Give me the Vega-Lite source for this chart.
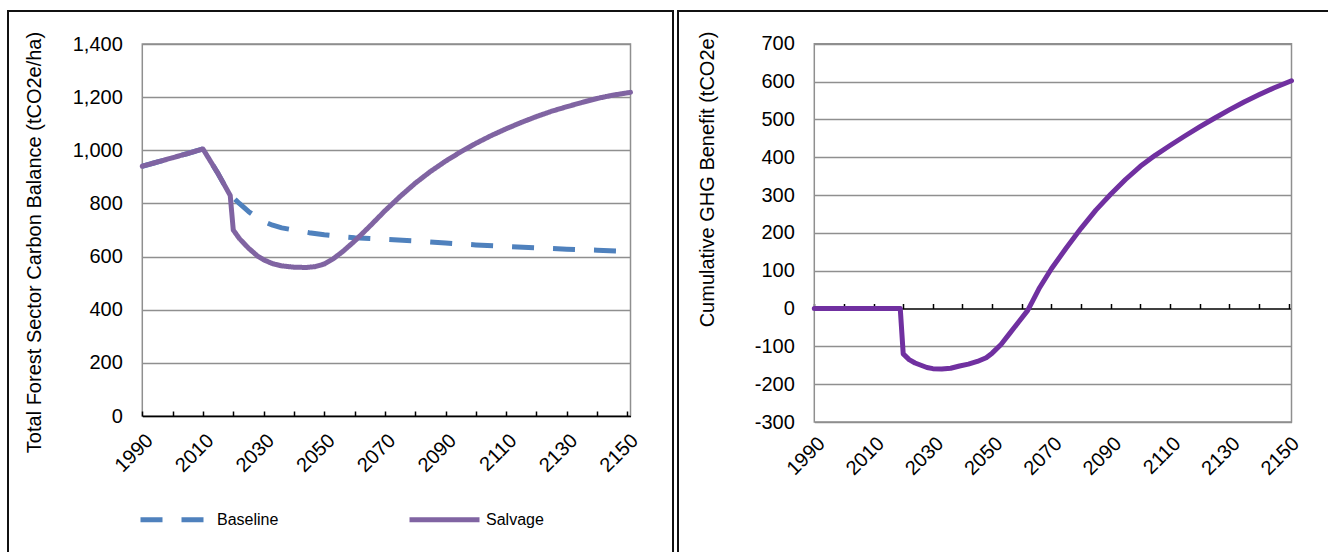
{
  "$schema": "https://vega.github.io/schema/vega-lite/v6.json",
  "background": "white",
  "padding": {"left": 7, "top": 10, "right": 0, "bottom": 0},
  "bounds": "flush",
  "spacing": 5,
  "config": {
    "view": {"stroke": "#111111", "strokeWidth": 2},
    "font": "Liberation Sans",
    "axis": {
      "labelFont": "Liberation Sans",
      "labelFontSize": 20,
      "labelColor": "#000000",
      "titleFont": "Liberation Sans",
      "titleFontSize": 20,
      "titleFontWeight": "normal",
      "titleColor": "#000000",
      "gridColor": "#8f8f8f",
      "gridWidth": 1.5
    }
  },
  "datasets": {
    "forest": [
      {"year": 1990, "series": "Baseline", "value": 940},
      {"year": 1995, "series": "Baseline", "value": 956},
      {"year": 2000, "series": "Baseline", "value": 972},
      {"year": 2005, "series": "Baseline", "value": 988},
      {"year": 2010, "series": "Baseline", "value": 1005},
      {"year": 2015, "series": "Baseline", "value": 912},
      {"year": 2019, "series": "Baseline", "value": 830},
      {"year": 2020, "series": "Baseline", "value": 822},
      {"year": 2022, "series": "Baseline", "value": 800},
      {"year": 2025, "series": "Baseline", "value": 770},
      {"year": 2028, "series": "Baseline", "value": 745},
      {"year": 2030, "series": "Baseline", "value": 732},
      {"year": 2033, "series": "Baseline", "value": 718},
      {"year": 2036, "series": "Baseline", "value": 708},
      {"year": 2040, "series": "Baseline", "value": 700},
      {"year": 2045, "series": "Baseline", "value": 690},
      {"year": 2050, "series": "Baseline", "value": 682},
      {"year": 2055, "series": "Baseline", "value": 676},
      {"year": 2060, "series": "Baseline", "value": 671},
      {"year": 2065, "series": "Baseline", "value": 668},
      {"year": 2070, "series": "Baseline", "value": 665},
      {"year": 2080, "series": "Baseline", "value": 659},
      {"year": 2090, "series": "Baseline", "value": 651},
      {"year": 2100, "series": "Baseline", "value": 644},
      {"year": 2110, "series": "Baseline", "value": 638},
      {"year": 2120, "series": "Baseline", "value": 633},
      {"year": 2130, "series": "Baseline", "value": 628},
      {"year": 2140, "series": "Baseline", "value": 624},
      {"year": 2151, "series": "Baseline", "value": 619},
      {"year": 1990, "series": "Salvage", "value": 940},
      {"year": 1995, "series": "Salvage", "value": 956},
      {"year": 2000, "series": "Salvage", "value": 972},
      {"year": 2005, "series": "Salvage", "value": 988},
      {"year": 2010, "series": "Salvage", "value": 1005},
      {"year": 2015, "series": "Salvage", "value": 912},
      {"year": 2019, "series": "Salvage", "value": 830},
      {"year": 2020, "series": "Salvage", "value": 700},
      {"year": 2022, "series": "Salvage", "value": 668},
      {"year": 2025, "series": "Salvage", "value": 632},
      {"year": 2028, "series": "Salvage", "value": 602},
      {"year": 2030, "series": "Salvage", "value": 588},
      {"year": 2033, "series": "Salvage", "value": 573},
      {"year": 2036, "series": "Salvage", "value": 565},
      {"year": 2040, "series": "Salvage", "value": 560},
      {"year": 2044, "series": "Salvage", "value": 559},
      {"year": 2047, "series": "Salvage", "value": 562},
      {"year": 2050, "series": "Salvage", "value": 572},
      {"year": 2053, "series": "Salvage", "value": 592},
      {"year": 2056, "series": "Salvage", "value": 618},
      {"year": 2060, "series": "Salvage", "value": 658},
      {"year": 2065, "series": "Salvage", "value": 714},
      {"year": 2070, "series": "Salvage", "value": 772},
      {"year": 2075, "series": "Salvage", "value": 826},
      {"year": 2080, "series": "Salvage", "value": 876},
      {"year": 2085, "series": "Salvage", "value": 920},
      {"year": 2090, "series": "Salvage", "value": 959},
      {"year": 2095, "series": "Salvage", "value": 994},
      {"year": 2100, "series": "Salvage", "value": 1026},
      {"year": 2105, "series": "Salvage", "value": 1055},
      {"year": 2110, "series": "Salvage", "value": 1081},
      {"year": 2115, "series": "Salvage", "value": 1105},
      {"year": 2120, "series": "Salvage", "value": 1127},
      {"year": 2125, "series": "Salvage", "value": 1147},
      {"year": 2130, "series": "Salvage", "value": 1164},
      {"year": 2135, "series": "Salvage", "value": 1180},
      {"year": 2140, "series": "Salvage", "value": 1195},
      {"year": 2145, "series": "Salvage", "value": 1207},
      {"year": 2151, "series": "Salvage", "value": 1218}
    ],
    "benefit": [
      {"year": 1990, "value": 0},
      {"year": 2000, "value": 0},
      {"year": 2010, "value": 0},
      {"year": 2019, "value": 0},
      {"year": 2020, "value": -120},
      {"year": 2022, "value": -135},
      {"year": 2024, "value": -144},
      {"year": 2026, "value": -150},
      {"year": 2028, "value": -156},
      {"year": 2030, "value": -159},
      {"year": 2033, "value": -160},
      {"year": 2036, "value": -158},
      {"year": 2039, "value": -152},
      {"year": 2042, "value": -147},
      {"year": 2045, "value": -140},
      {"year": 2048, "value": -130},
      {"year": 2050, "value": -118},
      {"year": 2053, "value": -95},
      {"year": 2056, "value": -65},
      {"year": 2059, "value": -35},
      {"year": 2062, "value": -5},
      {"year": 2064, "value": 25},
      {"year": 2066, "value": 55},
      {"year": 2070, "value": 105},
      {"year": 2075, "value": 160},
      {"year": 2080, "value": 212},
      {"year": 2085, "value": 260},
      {"year": 2090, "value": 302},
      {"year": 2095, "value": 341},
      {"year": 2100, "value": 376},
      {"year": 2105, "value": 405},
      {"year": 2110, "value": 431},
      {"year": 2115, "value": 456},
      {"year": 2120, "value": 480},
      {"year": 2125, "value": 503},
      {"year": 2130, "value": 525},
      {"year": 2135, "value": 546},
      {"year": 2140, "value": 565},
      {"year": 2145, "value": 583},
      {"year": 2151, "value": 602}
    ]
  },
  "hconcat": [
    {
      "width": 665,
      "height": 560,
      "resolve": {"axis": {"x": "independent"}},
      "layer": [
        {
          "data": {"values": [{}]},
          "mark": {"type": "rect", "filled": false, "stroke": "#8f8f8f", "strokeWidth": 1.5},
          "encoding": {
            "x": {
              "datum": 1990,
              "type": "quantitative",
              "scale": {"domain": [1990, 2151], "range": [134.3, 622.5], "nice": false, "zero": false},
              "axis": {
                "orient": "top",
                "offset": -405,
                "values": [1990, 2000, 2010, 2020, 2030, 2040, 2050, 2060, 2070, 2080, 2090, 2100, 2110, 2120, 2130, 2140, 2150],
                "labels": false,
                "ticks": true,
                "tickSize": 5,
                "tickColor": "#000000",
                "tickWidth": 1.5,
                "domain": true,
                "domainColor": "#000000",
                "domainWidth": 1.5,
                "grid": false,
                "title": null,
                "zindex": 1
              }
            },
            "x2": {"datum": 2151},
            "y": {
              "datum": 0,
              "type": "quantitative",
              "scale": {"domain": [0, 1400], "range": [405, 33], "nice": false, "zero": false},
              "axis": {
                "orient": "left",
                "offset": -134.3,
                "values": [0, 200, 400, 600, 800, 1000, 1200, 1400],
                "labelExpr": "format(datum.value, ',.0f')",
                "ticks": false,
                "domain": false,
                "grid": true,
                "labelPadding": 20,
                "title": "Total Forest Sector Carbon Balance (tCO2e/ha)",
                "titleX": -108,
                "titleY": 231,
                "titleBaseline": "middle"
              }
            },
            "y2": {"datum": 1400}
          }
        },
        {
          "data": {"name": "forest"},
          "encoding": {
            "x": {
              "field": "year",
              "type": "quantitative",
              "scale": {"domain": [1990, 2151], "range": [134.3, 622.5], "nice": false, "zero": false},
              "axis": {
                "orient": "bottom",
                "offset": -155,
                "values": [1990, 2010, 2030, 2050, 2070, 2090, 2110, 2130, 2150],
                "format": "d",
                "ticks": false,
                "domain": false,
                "grid": false,
                "labelAngle": -45,
                "labelAlign": "right",
                "labelBaseline": "top",
                "labelPadding": 14,
                "title": null
              }
            },
            "y": {
              "field": "value",
              "type": "quantitative",
              "scale": {"domain": [0, 1400], "range": [405, 33], "nice": false, "zero": false},
              "axis": {
                "orient": "left",
                "offset": -134.3,
                "values": [0, 200, 400, 600, 800, 1000, 1200, 1400],
                "labelExpr": "format(datum.value, ',.0f')",
                "ticks": false,
                "domain": false,
                "grid": true,
                "labelPadding": 20,
                "title": "Total Forest Sector Carbon Balance (tCO2e/ha)",
                "titleX": -108,
                "titleY": 231,
                "titleBaseline": "middle"
              }
            },
            "color": {
              "field": "series",
              "type": "nominal",
              "scale": {"domain": ["Baseline", "Salvage"], "range": ["#4f81bd", "#8064a2"]},
              "legend": {
                "orient": "none",
                "legendX": 130,
                "legendY": 471,
                "direction": "horizontal",
                "title": null,
                "padding": 0,
                "symbolType": "stroke",
                "symbolSize": 4900,
                "symbolStrokeWidth": 5,
                "labelFont": "Liberation Sans",
                "labelFontSize": 16,
                "labelColor": "#000000",
                "labelOffset": 4,
                "columnPadding": 120
              }
            },
            "strokeDash": {
              "field": "series",
              "type": "nominal",
              "scale": {"domain": ["Baseline", "Salvage"], "range": [[22, 19], [1, 0]]},
              "legend": {
                "orient": "none",
                "legendX": 130,
                "legendY": 471,
                "direction": "horizontal",
                "title": null,
                "padding": 0,
                "symbolType": "stroke",
                "symbolSize": 4900,
                "symbolStrokeWidth": 5,
                "labelFont": "Liberation Sans",
                "labelFontSize": 16,
                "labelColor": "#000000",
                "labelOffset": 4,
                "columnPadding": 120
              }
            }
          },
          "layer": [
            {
              "transform": [{"filter": "datum.series === 'Baseline'"}],
              "mark": {"type": "line", "strokeWidth": 5, "strokeJoin": "round"}
            },
            {
              "transform": [{"filter": "datum.series === 'Salvage'"}],
              "mark": {"type": "line", "strokeWidth": 5, "strokeJoin": "round", "strokeCap": "round"}
            }
          ]
        }
      ]
    },
    {
      "width": 660,
      "height": 560,
      "resolve": {"axis": {"x": "independent"}},
      "layer": [
        {
          "data": {"values": [{}]},
          "mark": {"type": "rect", "filled": false, "stroke": "#8f8f8f", "strokeWidth": 1.5},
          "encoding": {
            "x": {
              "datum": 1990,
              "type": "quantitative",
              "scale": {"domain": [1990, 2151], "range": [136.3, 613.5], "nice": false, "zero": false},
              "axis": {
                "orient": "top",
                "offset": -297.5,
                "values": [1990, 2000, 2010, 2020, 2030, 2040, 2050, 2060, 2070, 2080, 2090, 2100, 2110, 2120, 2130, 2140, 2150],
                "labels": false,
                "ticks": true,
                "tickSize": 5,
                "tickColor": "#000000",
                "tickWidth": 1.5,
                "domain": true,
                "domainColor": "#000000",
                "domainWidth": 1.5,
                "grid": false,
                "title": null,
                "zindex": 0
              }
            },
            "x2": {"datum": 2151},
            "y": {
              "datum": -300,
              "type": "quantitative",
              "scale": {"domain": [-300, 700], "range": [411, 32.7], "nice": false, "zero": false},
              "axis": {
                "orient": "left",
                "offset": -136.3,
                "values": [-300, -200, -100, 0, 100, 200, 300, 400, 500, 600, 700],
                "labelExpr": "'' + datum.value",
                "ticks": false,
                "domain": false,
                "grid": true,
                "gridColor": {"condition": {"test": "datum.value === 0", "value": "transparent"}, "value": "#8f8f8f"},
                "labelPadding": 20,
                "title": "Cumulative GHG Benefit (tCO2e)",
                "titleX": -107,
                "titleY": 168,
                "titleBaseline": "middle"
              }
            },
            "y2": {"datum": 700}
          }
        },
        {
          "data": {"name": "benefit"},
          "mark": {"type": "line", "color": "#7030a0", "strokeWidth": 5, "strokeJoin": "round", "strokeCap": "round"},
          "encoding": {
            "x": {
              "field": "year",
              "type": "quantitative",
              "scale": {"domain": [1990, 2151], "range": [136.3, 613.5], "nice": false, "zero": false},
              "axis": {
                "orient": "bottom",
                "offset": -149,
                "values": [1990, 2010, 2030, 2050, 2070, 2090, 2110, 2130, 2150],
                "format": "d",
                "ticks": false,
                "domain": false,
                "grid": false,
                "labelAngle": -45,
                "labelAlign": "right",
                "labelBaseline": "top",
                "labelPadding": 11,
                "title": null
              }
            },
            "y": {
              "field": "value",
              "type": "quantitative",
              "scale": {"domain": [-300, 700], "range": [411, 32.7], "nice": false, "zero": false},
              "axis": {
                "orient": "left",
                "offset": -136.3,
                "values": [-300, -200, -100, 0, 100, 200, 300, 400, 500, 600, 700],
                "labelExpr": "'' + datum.value",
                "ticks": false,
                "domain": false,
                "grid": true,
                "gridColor": {"condition": {"test": "datum.value === 0", "value": "transparent"}, "value": "#8f8f8f"},
                "labelPadding": 20,
                "title": "Cumulative GHG Benefit (tCO2e)",
                "titleX": -107,
                "titleY": 168,
                "titleBaseline": "middle"
              }
            }
          }
        }
      ]
    }
  ]
}
